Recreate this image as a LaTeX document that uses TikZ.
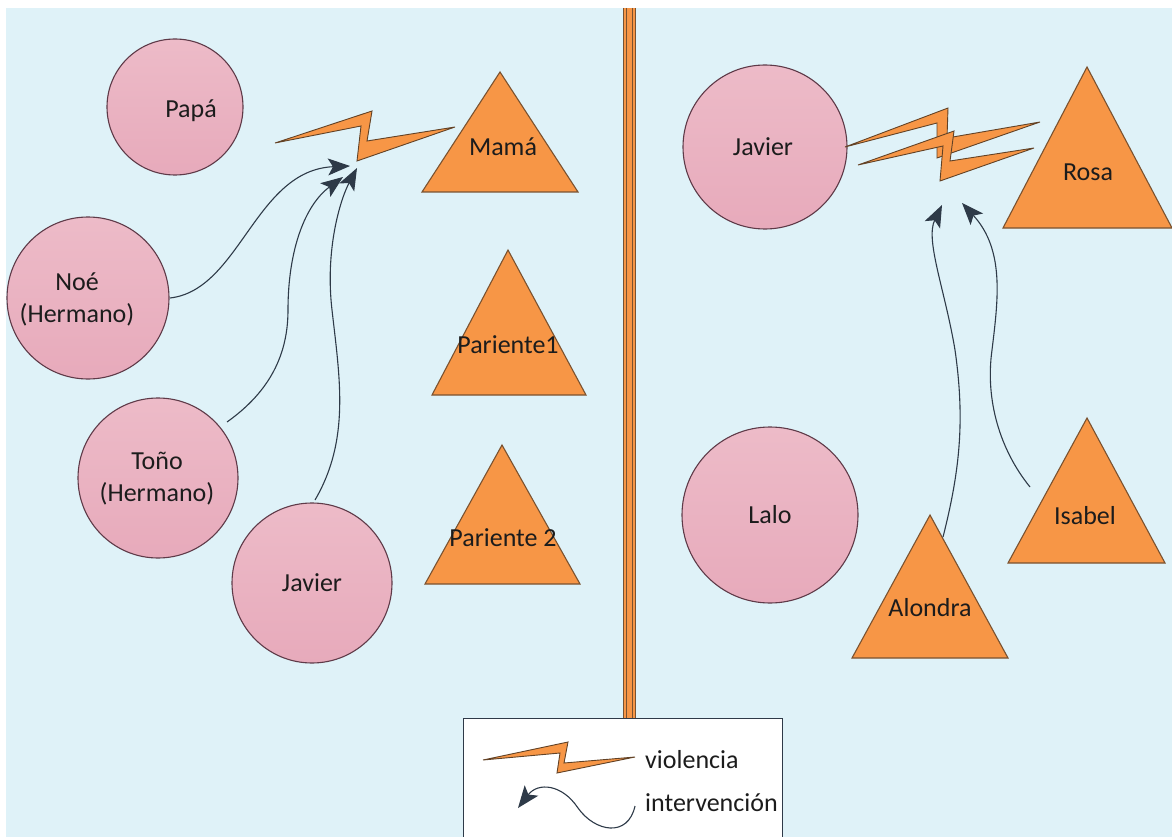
\documentclass[tikz,border=0pt]{standalone}
\usepackage{fontspec}
\setmainfont{Carlito}
\usetikzlibrary{arrows.meta}
\definecolor{bg}{HTML}{DFF2F8}
\definecolor{pinkf}{HTML}{E7AABB}
\definecolor{pinkt}{HTML}{EDBBC8}
\definecolor{pinkd}{HTML}{5E3A48}
\definecolor{orf}{HTML}{F79646}
\definecolor{ord}{HTML}{7A5230}
\definecolor{arrc}{HTML}{2E3A48}
\definecolor{txt}{HTML}{1C1C1C}
\tikzset{
  person/.style={circle, draw=pinkd, line width=1.1pt, top color=pinkt, bottom color=pinkf, inner sep=0pt, align=center, text=txt, font=\fontsize{26}{32}\selectfont},
  tri/.style={draw=ord, line width=1.1pt, fill=orf, line join=miter},
  lbl/.style={text=txt, font=\fontsize{26}{32}\selectfont, inner sep=0pt},
  bolt/.style={draw=ord!80!black, line width=0.9pt, fill=orf, line join=miter},
  arr/.style={draw=arrc, line width=1.1pt, -{Stealth[length=22pt,width=17pt,inset=5pt]}},
  legbox/.style={draw=arrc, line width=1pt, fill=white}
}
\begin{document}
\begin{tikzpicture}[x=1pt,y=-1pt]
\useasboundingbox (0,0) rectangle (1172,837);
\fill[bg] (6,8) rectangle (1172,837);
% divider
\fill[orf] (623,8) rectangle (636,720);
\draw[ord, line width=1.2pt] (623.5,8) -- (623.5,720) (635.5,8) -- (635.5,720);
\draw[ord, line width=0.8pt] (626.5,8) -- (626.5,720) (632.5,8) -- (632.5,720);
% legend box
\draw[legbox] (463,838) -- (463,718) -- (782,718) -- (782,838);
% persons
\node[person, minimum size=136pt] (papa) at (175,107) {};
\node[lbl] (papat) at (191,111) {Papá};
\node[person, minimum size=162pt] (noe) at (88,298) {};
\node[lbl, align=center] (noet) at (77,299) {Noé\\(Hermano)};
\node[person, minimum size=160pt] (tono) at (158,478) {};
\node[lbl, align=center] (tonot) at (157,479) {Toño\\(Hermano)};
\node[person, minimum size=160pt] (javl) at (312,583) {};
\node[lbl] (javlt) at (312,583) {Javier};
\node[person, minimum size=164pt] (javr) at (765,147) {};
\node[lbl] (javrt) at (763,147) {Javier};
\node[person, minimum size=176pt] (lalo) at (770,515) {};
\node[lbl] (lalot) at (770,515) {Lalo};
% triangles
\draw[tri] (500,72) -- (578,192) -- (422,192) -- cycle;
\node[lbl] (mama) at (503,147) {Mamá};
\draw[tri] (508,250) -- (586,395) -- (432,395) -- cycle;
\node[lbl] (par1) at (508,345) {Pariente1};
\draw[tri] (502,445) -- (580,584) -- (425,584) -- cycle;
\node[lbl] (par2) at (503,538) {Pariente 2};
\draw[tri] (1087,67) -- (1172,228) -- (1003,228) -- cycle;
\node[lbl] (rosa) at (1088,172) {Rosa};
\draw[tri] (930,515) -- (1008,658) -- (852,658) -- cycle;
\node[lbl] (alondra) at (930,608) {Alondra};
\draw[tri] (1087,418) -- (1165,563) -- (1008,563) -- cycle;
\node[lbl] (isabel) at (1085,516) {Isabel};
% bolts
\draw[bolt] (275,143) -- (372,111) -- (367,141) -- (455,127) -- (357,161) -- (361,126) -- cycle;
\draw[bolt] (845,147) -- (948,108) -- (947,138) -- (1040,122) -- (937,158) -- (937,123) -- cycle;
\draw[bolt] (858,165) -- (954,131) -- (950,161) -- (1034,148) -- (940,181) -- (943,146) -- cycle;
\draw[bolt] (483,760) -- (568,742) -- (564,763) -- (635,757) -- (557,773) -- (560,753) -- cycle;
% arrow end points
\coordinate (a1s) at (170,298); \coordinate (a1e) at (350,166);
\coordinate (a2s) at (227,422); \coordinate (a2e) at (343,177);
\coordinate (a3s) at (315,500); \coordinate (a3e) at (357,168);
\coordinate (a4s) at (943,537); \coordinate (a4e) at (942,205);
\coordinate (a5s) at (1030,487); \coordinate (a5e) at (962,203);
\coordinate (lgs) at (635,806); \coordinate (lge) at (518,808);
\draw[arr] (a1s) .. controls (240,290) and (255,170) .. (a1e);
\draw[arr] (a2s) .. controls (265,395) and (288,360) .. (288,310) .. controls (288,250) and (305,205) .. (a2e);
\draw[arr] (a3s) .. controls (350,440) and (340,380) .. (332,310) .. controls (325,250) and (340,200) .. (a3e);
\draw[arr] (a4s) .. controls (960,470) and (965,420) .. (955,350) .. controls (945,290) and (925,240) .. (a4e);
\draw[arr] (a5s) .. controls (1000,450) and (985,400) .. (992,350) .. controls (998,300) and (1005,250) .. (a5e);
\draw[arr] (lgs) .. controls (628,838) and (595,832) .. (578,808) .. controls (562,784) and (538,782) .. (lge);
% legend text
\node[lbl, anchor=west] (lv) at (645,760) {violencia};
\node[lbl, anchor=west] (li) at (645,803) {intervención};
\end{tikzpicture}
\end{document}
